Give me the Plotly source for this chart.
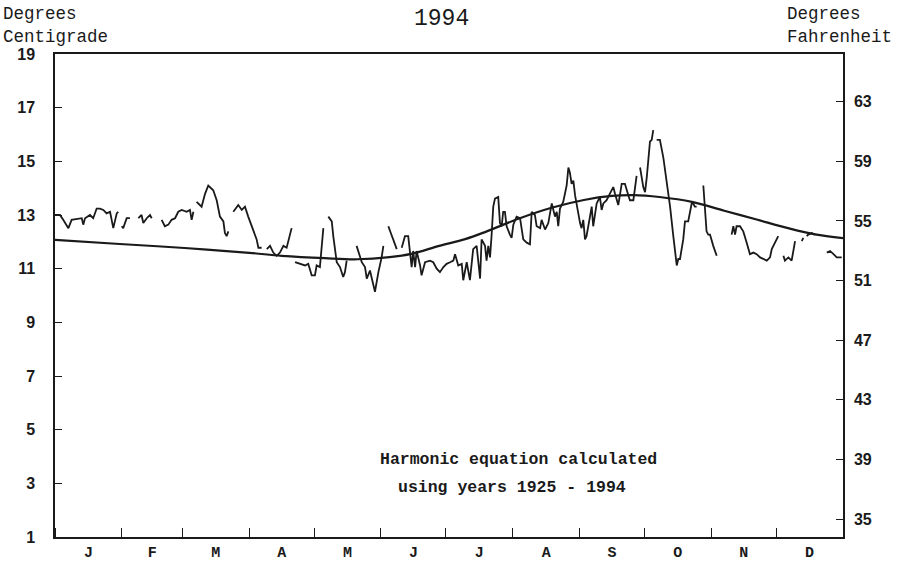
import plotly.graph_objects as go

# ---- data (day of year, degrees C); None marks gaps in the record ----
obs_day = [0.0, 2.3, 3.8, 6.2, 7.7, 10.1, 12.4, 13.1, 13.9, 16.2, 17.7, 19.3, 20.8, 22.4, 23.9, 25.5, 27.0, 28.6, 29.3, None,
           30.9, 31.6, 33.2, 34.7, None,
           38.6, 40.1, 40.9, 42.5, 44.0, 44.8, None,
           49.4, 50.9, 52.5, 54.0, 55.6, 57.1, 58.7, 61.0, 62.5, 63.3, 64.1, None,
           65.6, 67.9, 69.5, 71.0, 73.3, 74.9, 76.4, 78.0, 78.7, 79.5, 80.3, None,
           82.6, 84.9, 86.5, 88.0, 89.5, 91.1, 93.4, 94.2, 95.7, None,
           98.1, 99.6, 101.1, 102.7, 104.2, 105.8, 107.3, 109.6, None,
           111.2, 113.5, 115.8, 117.3, 118.9, 120.4, 121.2, 122.7, 123.5, 124.3, None,
           126.6, 128.2, 128.9, 130.5, 132.0, 133.5, 134.3, 135.1, None,
           139.7, 141.3, 142.1, 143.6, 144.4, 145.9, 147.4, 148.2, 149.8, 151.3, 152.1, None,
           154.4, 156.7, 158.3, None,
           160.6, 162.1, 163.6, 164.4, 165.2, 165.9, 166.8, 167.5, 169.1, 169.8, 171.4, 173.7, 175.2, 176.8, 178.3,
           179.9, 181.4, 183.0, 184.5, 185.3, 186.8, 188.4, 189.1, 190.7, 191.4, 192.2, 193.7, 195.3, 196.9, 197.6,
           199.2, 199.9, 200.7, 201.5, 202.2, 203.0, 203.8, 205.3, 206.1, 206.9, 207.6, 208.4, 209.2, 209.9, 210.7,
           211.5, 212.3, 213.8, 215.4, 216.9, 218.5, 220.0, 220.8, 222.3, 223.1, 224.7, 225.4, 227.0, 228.5, 230.1,
           231.6, 232.4, 233.1, 233.9, 235.4, 236.2, 237.0, 237.8, 238.5, 239.3, 240.1, 240.9, 241.6, 243.2, 243.9,
           244.7, 245.5, 246.2, 247.8, 248.6, 249.3, 250.9, 252.4, 253.2, 254.0, 255.5, 257.8, 258.6, 259.4, 260.9,
           262.5, 264.0, 265.6, 266.3, 267.9, 268.7, 269.4, None,
           271.0, 272.5, 273.3, 274.1, 275.6, 276.4, 277.1, None,
           278.7, 280.2, 281.8, 283.3, 284.9, 286.4, 288.0, 288.7, 289.5, 291.0, 291.8, 293.3, 294.1, 294.9, 295.6,
           296.4, 297.2, None,
           300.3, 301.0, 301.8, 302.6, 303.4, 304.9, 306.5, None,
           313.4, 314.2, 315.0, 315.7, 317.3, 318.8, 320.4, 321.9, 323.5, 325.0, 326.6, 328.1, 329.7, 331.2, 332.0,
           333.5, 334.3, 335.0, None,
           337.4, 338.1, 339.7, 341.2, 342.0, 342.8, None,
           345.9, 346.6, None,
           348.2, 348.9, 350.5, 352.0, None,
           357.5, 359.0, 360.6, 362.1, 364.4]

obs_temp = [13.0, 13.0, 12.82, 12.51, 12.82, 12.84, 12.88, 12.64, 12.88, 13.0, 12.88, 13.24, 13.24, 13.19, 13.06, 13.12, 12.51, 13.06, 13.12, None,
            12.58, 12.51, 12.88, 12.88, None,
            12.88, 13.0, 12.70, 12.88, 13.0, 12.88, None,
            12.82, 12.58, 12.64, 12.82, 12.88, 13.12, 13.19, 13.12, 13.19, 12.82, 13.12, None,
            13.49, 13.31, 13.79, 14.10, 13.92, 13.55, 12.94, 12.76, 12.33, 12.21, 12.39, None,
            13.12, 13.37, 13.19, 13.31, 12.94, 12.58, 12.09, 11.78, 11.78, None,
            11.73, 11.85, 11.60, 11.48, 11.60, 11.85, 11.78, 12.51, None,
            11.24, 11.18, 11.12, 11.18, 10.75, 10.75, 11.12, 11.06, 11.73, 12.51, None,
            12.94, 12.76, 12.21, 11.24, 11.06, 10.69, 10.87, 11.30, None,
            11.85, 11.42, 11.24, 11.06, 10.63, 10.93, 10.39, 10.14, 10.87, 11.42, 11.85, None,
            12.58, 12.09, 11.73, None,
            11.78, 12.21, 12.21, 11.66, 11.06, 11.66, 11.06, 11.66, 11.12, 10.75, 11.24, 11.30, 11.24, 11.0, 10.87,
            11.06, 11.18, 11.24, 11.30, 11.54, 11.12, 11.18, 10.57, 11.24, 10.87, 10.57, 11.73, 11.85, 10.63, 12.09,
            11.85, 11.30, 11.85, 11.42, 12.21, 13.31, 13.61, 13.67, 12.70, 12.58, 13.12, 13.12, 12.58, 12.39, 12.27,
            12.15, 12.64, 12.94, 12.88, 12.09, 11.97, 11.91, 13.12, 13.0, 12.58, 12.51, 12.82, 12.46, 12.70, 13.43,
            12.94, 13.12, 12.58, 13.24, 13.49, 13.79, 14.10, 14.77, 14.58, 14.16, 14.28, 13.73, 13.37, 12.70, 12.51,
            12.82, 12.09, 12.21, 12.94, 13.31, 12.58, 13.43, 13.67, 13.19, 13.43, 13.55, 13.92, 14.04, 13.79, 13.37,
            14.16, 14.16, 13.73, 13.55, 13.55, 14.16, 14.46, None,
            14.77, 14.04, 13.85, 14.40, 15.74, 15.80, 16.16, None,
            15.80, 15.80, 15.13, 14.28, 13.31, 12.21, 11.12, 11.36, 11.36, 12.09, 12.76, 12.76, 13.06, 13.43, 13.43,
            13.31, 13.31, None,
            14.10, 13.43, 12.39, 12.27, 12.27, 11.85, 11.48, None,
            12.27, 12.58, 12.27, 12.58, 12.58, 12.39, 11.97, 11.54, 11.60, 11.54, 11.42, 11.36, 11.30, 11.42, 11.73,
            11.97, 12.09, 12.21, None,
            11.48, 11.30, 11.42, 11.30, 11.66, 12.03, None,
            12.03, 12.15, None,
            12.21, 12.27, 12.33, 12.27, None,
            11.60, 11.66, 11.54, 11.42, 11.42]

harm_day = [0, 30, 60, 90, 105, 125, 140, 155, 165, 178, 190, 200, 215, 230, 245, 258, 268, 280, 295, 310, 325, 340, 352, 365]
harm_temp = [12.07, 11.92, 11.77, 11.59, 11.48, 11.39, 11.35, 11.43, 11.55, 11.85, 12.10, 12.39, 12.87, 13.27, 13.56,
             13.71, 13.74, 13.67, 13.49, 13.16, 12.83, 12.50, 12.28, 12.14]

month_edges = [0, 31, 59, 90, 120, 151, 181, 212, 243, 273, 304, 334, 365]
month_labels = ["J", "F", "M", "A", "M", "J", "J", "A", "S", "O", "N", "D"]
c_ticks = [1, 3, 5, 7, 9, 11, 13, 15, 17, 19]
f_ticks = [35, 39, 43, 47, 51, 55, 59, 63]
c_range = [1, 19]

month_mid = [(month_edges[i] + month_edges[i + 1]) / 2 for i in range(12)]
f_range = [c * 9 / 5 + 32 for c in c_range]

INK = "#1a1a1a"
MONO = "Courier New, Liberation Mono, monospace"
SANS = "Arial, Liberation Sans, sans-serif"

fig = go.Figure()
fig.add_trace(go.Scatter(x=obs_day, y=obs_temp, mode="lines", connectgaps=False,
                         line=dict(color=INK, width=1.8), showlegend=False))
fig.add_trace(go.Scatter(x=harm_day, y=harm_temp, mode="lines", line=dict(color=INK, width=2.2, shape="spline"),
                         showlegend=False))
# invisible trace to activate the Fahrenheit axis
fig.add_trace(go.Scatter(x=[None], y=[None], yaxis="y2", showlegend=False))

corner_top = 1 + (54 - 1) / 494

fig.update_layout(
    width=900, height=574,
    margin=dict(l=55, r=57, t=54, b=26),
    paper_bgcolor="white", plot_bgcolor="white",
    xaxis=dict(range=[0, 365], tickvals=month_mid, ticktext=month_labels, ticks="",
               showgrid=False, zeroline=False, showline=True, linecolor=INK, linewidth=1.5, mirror=True,
               tickfont=dict(family=MONO, size=15, color=INK, weight="bold"),
               minor=dict(tickvals=month_edges, ticks="inside", ticklen=9, tickcolor=INK, tickwidth=1.2)),
    yaxis=dict(range=c_range, tickvals=c_ticks, ticks="inside", ticklen=7, tickcolor=INK, tickwidth=1.2,
               showgrid=False, zeroline=False, showline=True, linecolor=INK, linewidth=1.5,
               tickfont=dict(family=SANS, size=16, color=INK, weight="bold"), ticklabelstandoff=15),
    yaxis2=dict(range=f_range, tickvals=f_ticks, overlaying="y", side="right", ticks="inside", ticklen=7,
                tickcolor=INK, tickwidth=1.2, showgrid=False, zeroline=False, showline=True, linecolor=INK,
                linewidth=1.5, tickfont=dict(family=SANS, size=16, color=INK, weight="bold"),
                ticklabelstandoff=6),
    annotations=[
        dict(text="1994", xref="paper", yref="paper", x=0.49, y=1.073, xanchor="center", yanchor="middle",
             showarrow=False, font=dict(family=MONO, size=23, color=INK)),
        dict(text="Degrees<br>Centigrade", xref="paper", yref="paper", x=-0.068, y=corner_top, xanchor="left",
             yanchor="top", align="left", showarrow=False, font=dict(family=MONO, size=17.5, color=INK)),
        dict(text="Degrees<br>Fahrenheit", xref="paper", yref="paper", x=(785 - 55) / 788, y=corner_top,
             xanchor="left", yanchor="top", align="left", showarrow=False,
             font=dict(family=MONO, size=17.5, color=INK)),
        dict(text="<b>Harmonic equation calculated</b>", xref="x", yref="y", x=214.5, y=3.9,
             xanchor="center", yanchor="middle", showarrow=False, font=dict(family=MONO, size=16.5, color=INK)),
        dict(text="<b>using years 1925 - 1994</b>", xref="x", yref="y", x=211.7, y=2.85,
             xanchor="center", yanchor="middle", showarrow=False, font=dict(family=MONO, size=16.5, color=INK)),
    ],
)

fig.write_html("out.html", config={"displayModeBar": False},
               post_script="document.body.style.margin='0';document.body.style.overflow='hidden';")
